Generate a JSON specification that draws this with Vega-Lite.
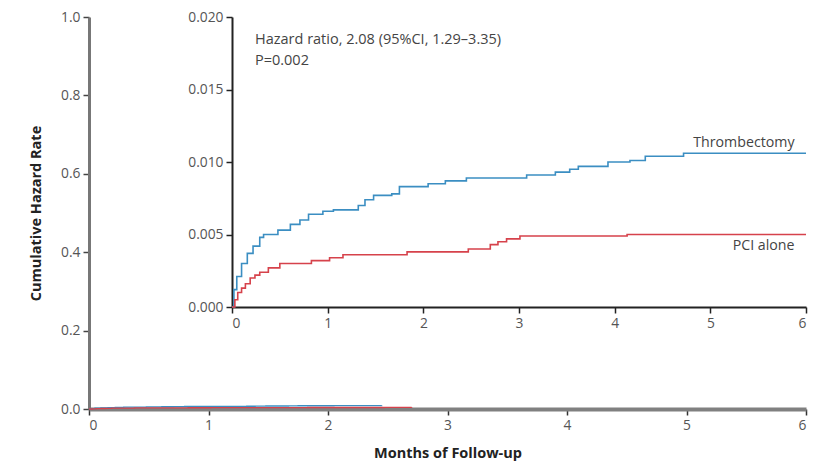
{
  "$schema": "https://vega.github.io/schema/vega-lite/v6.json",
  "width": 717,
  "height": 392,
  "autosize": "none",
  "padding": {"left": 89, "top": 17, "right": 9, "bottom": 60},
  "config": {
    "view": {"stroke": null},
    "font": "Open Sans",
    "axis": {
      "grid": false,
      "labelFont": "Open Sans",
      "labelFontSize": 13.8,
      "labelColor": "#555555",
      "titleFont": "Open Sans",
      "titleFontSize": 14.5,
      "titleFontWeight": "bold",
      "titleColor": "#222222",
      "tickSize": 6,
      "labelPadding": 3
    }
  },
  "data": {
    "values": [
      {"series": "Thrombectomy", "month": 0, "rate": 0},
      {"series": "Thrombectomy", "month": 0.02, "rate": 0.0012},
      {"series": "Thrombectomy", "month": 0.05, "rate": 0.0021},
      {"series": "Thrombectomy", "month": 0.10, "rate": 0.0030},
      {"series": "Thrombectomy", "month": 0.16, "rate": 0.0037},
      {"series": "Thrombectomy", "month": 0.22, "rate": 0.0042},
      {"series": "Thrombectomy", "month": 0.29, "rate": 0.0048},
      {"series": "Thrombectomy", "month": 0.33, "rate": 0.0050},
      {"series": "Thrombectomy", "month": 0.48, "rate": 0.0053},
      {"series": "Thrombectomy", "month": 0.61, "rate": 0.0057},
      {"series": "Thrombectomy", "month": 0.71, "rate": 0.0060},
      {"series": "Thrombectomy", "month": 0.80, "rate": 0.0064},
      {"series": "Thrombectomy", "month": 0.95, "rate": 0.0066},
      {"series": "Thrombectomy", "month": 1.06, "rate": 0.0067},
      {"series": "Thrombectomy", "month": 1.32, "rate": 0.0070},
      {"series": "Thrombectomy", "month": 1.39, "rate": 0.0074},
      {"series": "Thrombectomy", "month": 1.48, "rate": 0.0077},
      {"series": "Thrombectomy", "month": 1.67, "rate": 0.0078},
      {"series": "Thrombectomy", "month": 1.75, "rate": 0.0083},
      {"series": "Thrombectomy", "month": 2.05, "rate": 0.0085},
      {"series": "Thrombectomy", "month": 2.23, "rate": 0.0087},
      {"series": "Thrombectomy", "month": 2.45, "rate": 0.0089},
      {"series": "Thrombectomy", "month": 3.08, "rate": 0.0091},
      {"series": "Thrombectomy", "month": 3.38, "rate": 0.0093},
      {"series": "Thrombectomy", "month": 3.53, "rate": 0.0095},
      {"series": "Thrombectomy", "month": 3.62, "rate": 0.0097},
      {"series": "Thrombectomy", "month": 3.93, "rate": 0.0100},
      {"series": "Thrombectomy", "month": 4.16, "rate": 0.0101},
      {"series": "Thrombectomy", "month": 4.32, "rate": 0.0104},
      {"series": "Thrombectomy", "month": 4.72, "rate": 0.0106},
      {"series": "Thrombectomy", "month": 6.0, "rate": 0.0106},
      {"series": "PCI alone", "month": 0, "rate": 0},
      {"series": "PCI alone", "month": 0.03, "rate": 0.0005},
      {"series": "PCI alone", "month": 0.06, "rate": 0.0010},
      {"series": "PCI alone", "month": 0.10, "rate": 0.0013},
      {"series": "PCI alone", "month": 0.14, "rate": 0.0016},
      {"series": "PCI alone", "month": 0.19, "rate": 0.0020},
      {"series": "PCI alone", "month": 0.24, "rate": 0.0022},
      {"series": "PCI alone", "month": 0.29, "rate": 0.0024},
      {"series": "PCI alone", "month": 0.38, "rate": 0.0027},
      {"series": "PCI alone", "month": 0.50, "rate": 0.0030},
      {"series": "PCI alone", "month": 0.83, "rate": 0.0032},
      {"series": "PCI alone", "month": 1.02, "rate": 0.0034},
      {"series": "PCI alone", "month": 1.16, "rate": 0.0036},
      {"series": "PCI alone", "month": 1.83, "rate": 0.0038},
      {"series": "PCI alone", "month": 2.47, "rate": 0.0040},
      {"series": "PCI alone", "month": 2.70, "rate": 0.0043},
      {"series": "PCI alone", "month": 2.78, "rate": 0.0045},
      {"series": "PCI alone", "month": 2.87, "rate": 0.0047},
      {"series": "PCI alone", "month": 3.01, "rate": 0.0049},
      {"series": "PCI alone", "month": 4.13, "rate": 0.0050},
      {"series": "PCI alone", "month": 6.0, "rate": 0.0050}
    ]
  },
  "layer": [
    {
      "transform": [{"filter": "datum.month <= 2.75"}],
      "mark": {"type": "line", "interpolate": "step-after", "strokeWidth": 1.3},
      "encoding": {
        "x": {
          "field": "month", "type": "quantitative",
          "scale": {"domain": [0, 6], "nice": false},
          "axis": {
            "orient": "bottom", "title": "Months of Follow-up", "values": [0, 1, 2, 3, 4, 5, 6], "format": "d",
            "domainColor": "#808080", "domainWidth": 4, "tickColor": "#333333", "tickWidth": 1.5,
            "titlePadding": 15
          }
        },
        "y": {
          "field": "rate", "type": "quantitative",
          "scale": {"domain": [0, 1], "nice": false},
          "axis": {
            "orient": "left", "title": "Cumulative Hazard Rate", "values": [0, 0.2, 0.4, 0.6, 0.8, 1.0], "format": ".1f",
            "domainColor": "#777777", "domainWidth": 3, "tickColor": "#444444", "tickWidth": 1.5,
            "titlePadding": 17
          }
        },
        "color": {
          "field": "series", "type": "nominal",
          "scale": {"domain": ["Thrombectomy", "PCI alone"], "range": ["#3b8ec2", "#d6424b"]},
          "legend": null
        },
        "order": {"field": "month", "type": "quantitative"}
      }
    },
    {
      "layer": [
        {
          "mark": {"type": "line", "interpolate": "step-after", "strokeWidth": 1.6},
          "encoding": {
            "x": {
              "field": "month", "type": "quantitative",
              "scale": {"domain": [0, 6], "range": [143, 717], "nice": false},
              "axis": {
                "orient": "bottom", "offset": -102, "title": null, "values": [0, 1, 2, 3, 4, 5, 6], "format": "d",
                "domainColor": "#222222", "domainWidth": 2, "tickColor": "#222222", "tickWidth": 1.5
              }
            },
            "y": {
              "field": "rate", "type": "quantitative",
              "scale": {"domain": [0, 0.02], "range": [290, 0], "nice": false},
              "axis": {
                "orient": "left", "offset": -143, "title": null, "values": [0, 0.005, 0.01, 0.015, 0.02], "format": ".3f",
                "domainColor": "#222222", "domainWidth": 2, "tickColor": "#222222", "tickWidth": 1.5
              }
            },
            "color": {"field": "series", "type": "nominal", "legend": null}
          }
        },
        {
          "data": {"values": [{}]},
          "mark": {"type": "text", "align": "left", "baseline": "middle", "fontSize": 14.5, "color": "#444444", "text": "Hazard ratio, 2.08 (95%CI, 1.29–3.35)"},
          "encoding": {"x": {"datum": 0.24, "type": "quantitative"}, "y": {"datum": 0.0184, "type": "quantitative"}}
        },
        {
          "data": {"values": [{}]},
          "mark": {"type": "text", "align": "left", "baseline": "middle", "fontSize": 14.5, "color": "#444444", "text": "P=0.002"},
          "encoding": {"x": {"datum": 0.24, "type": "quantitative"}, "y": {"datum": 0.0170, "type": "quantitative"}}
        },
        {
          "data": {"values": [{}]},
          "mark": {"type": "text", "align": "right", "baseline": "middle", "fontSize": 14.2, "color": "#444444", "text": "Thrombectomy"},
          "encoding": {"x": {"datum": 5.88, "type": "quantitative"}, "y": {"datum": 0.0113, "type": "quantitative"}}
        },
        {
          "data": {"values": [{}]},
          "mark": {"type": "text", "align": "right", "baseline": "middle", "fontSize": 14.2, "color": "#444444", "text": "PCI alone"},
          "encoding": {"x": {"datum": 5.88, "type": "quantitative"}, "y": {"datum": 0.0042, "type": "quantitative"}}
        }
      ]
    }
  ],
  "resolve": {
    "scale": {"x": "independent", "y": "independent", "color": "shared"},
    "axis": {"x": "independent", "y": "independent"}
  }
}
